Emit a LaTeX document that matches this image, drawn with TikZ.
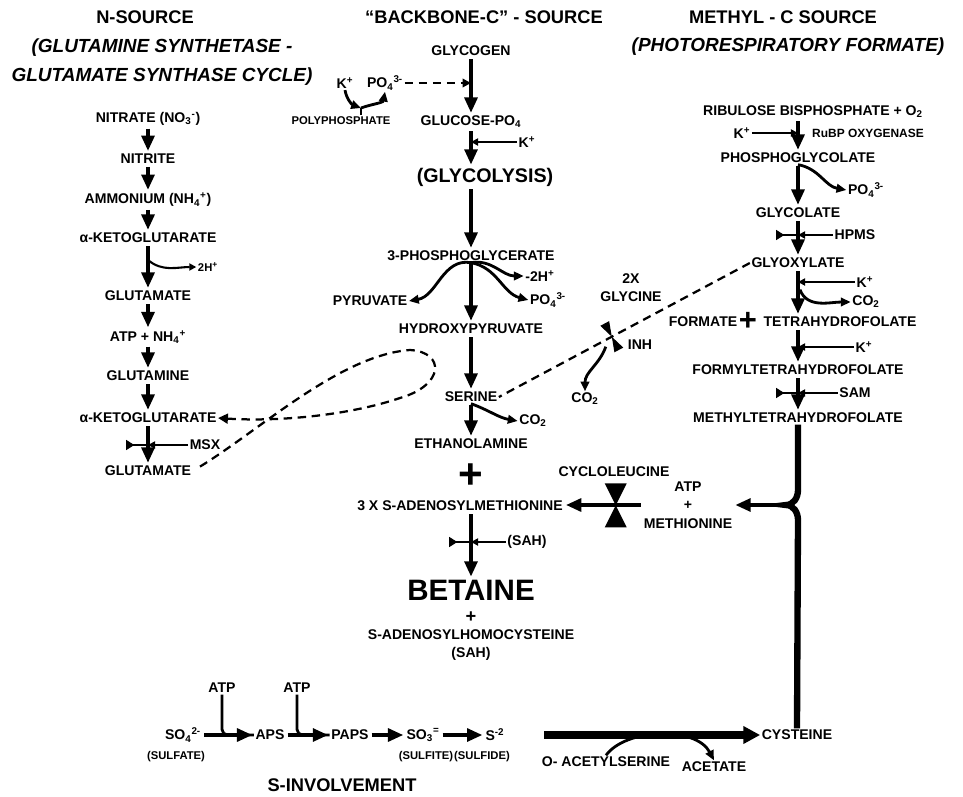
\documentclass[tikz,border=0pt]{standalone}
\usepackage{fontspec}
\setmainfont{Liberation Sans}
\usetikzlibrary{arrows.meta,calc}

\begin{document}
\begin{tikzpicture}[
    x=0.025cm, y=-0.025cm,
    every node/.style={font=\bfseries\fontsize{10}{13}\selectfont, inner sep=1pt, align=center},
    hdr/.style={font=\bfseries\fontsize{13}{15}\selectfont},
    hdrit/.style={font=\bfseries\itshape\fontsize{13.5}{20.5}\selectfont},
    smalllbl/.style={font=\bfseries\fontsize{8}{9}\selectfont},
    rxn/.style={line width=3.4pt, shorten <=1pt, shorten >=1pt, -{Triangle[length=11pt,width=9pt]}},
    brancharr/.style={line width=2pt, -{Triangle[length=7pt,width=6pt]}},
    sidearr/.style={line width=1.5pt, -{Triangle[length=5pt,width=5pt]}},
    wedge/.style={line width=1.5pt, {Triangle[reversed,length=6pt,width=7pt]}-},
    dashlink/.style={line width=1.6pt, dash pattern=on 6pt off 4pt},
    bigarrow/.style={line width=5pt, -{Triangle[length=12pt,width=12pt]}},
    spine/.style={line width=4.5pt},
    hourglass/.pic={
        \fill (-11,-22) -- (11,-22) -- (0,0) -- cycle;
        \fill (-11,22) -- (11,22) -- (0,0) -- cycle;
    },
    inhmark/.pic={
        \fill (-5,-15) -- (5,-15) -- (0,0) -- cycle;
        \fill (-5,15) -- (5,15) -- (0,0) -- cycle;
    }
]
\useasboundingbox (0,0) rectangle (963,797);

% headings
\node[hdr] (nhead) at (145,17) {N-SOURCE};
\node[hdrit] (gscycle) at (162,62) {(GLUTAMINE SYNTHETASE -\\GLUTAMATE SYNTHASE CYCLE)};
\node[hdr] (bbhead) at (484,17) {``BACKBONE-C'' - SOURCE};
\node[hdr] (mhead) at (783,17) {METHYL - C SOURCE};
\node[hdrit] (mhead2) at (788,47) {(PHOTORESPIRATORY FORMATE)};
\node[hdr] (shead) at (342,785) {S-INVOLVEMENT};

% N-source column
\node (nitrate) at (148,119) {NITRATE (NO\textsubscript{3}\textsuperscript{-})};
\node (nitrite) at (148,159) {NITRITE};
\node (ammon) at (148,200) {AMMONIUM (NH\textsubscript{4}\textsuperscript{+})};
\node (akg1) at (148,238) {α-KETOGLUTARATE};
\node[smalllbl] (hplus) at (208,267) {2H\textsuperscript{+}};
\node (glu1) at (148,296) {GLUTAMATE};
\node (atpnh) at (148,337) {ATP + NH\textsubscript{4}\textsuperscript{+}};
\node (gln) at (148,376) {GLUTAMINE};
\node (akg2) at (148,418) {α-KETOGLUTARATE};
\node (msx) at (205,445) {MSX};
\node (glu2) at (148,471) {GLUTAMATE};

\draw[rxn] (nitrate) -- (nitrite);
\draw[rxn] (nitrite) -- (ammon);
\draw[rxn] (ammon) -- (akg1);
\draw[rxn] (akg1) -- (glu1);
\draw[rxn] (glu1) -- (atpnh);
\draw[rxn] (atpnh) -- (gln);
\draw[rxn] (gln) -- (akg2);
\draw[rxn] (akg2) -- (glu2);
\coordinate (br1) at (148,260);
\draw[sidearr] (br1) to[out=-40,in=180] (hplus.west);
\coordinate (m1) at (msx.west -| akg2.south);
\draw[sidearr] (msx.west) -- (m1);
\draw[wedge] ([shift={(-22,0)}]m1) -- (m1);

% cycle back to alpha-ketoglutarate
\draw[dashlink, shorten <=6pt, -{Triangle[length=7pt,width=7pt]}] (glu2.east)
    .. controls (260,430) and (340,355) .. (410,350)
    .. controls (445,352) and (445,385) .. (400,398)
    .. controls (350,415) and (280,422) .. (akg2.east);

% backbone-C column
\node (glycogen) at (471,51) {GLYCOGEN};
\node (kpa) at (345,83) {K\textsuperscript{+}};
\node (po4a) at (385,83) {PO\textsubscript{4}\textsuperscript{3-}};
\node[smalllbl] (polyp) at (341,121) {POLYPHOSPHATE};
\coordinate (yjoin) at (361,108);
\node (g6p) at (471,122) {GLUCOSE-PO\textsubscript{4}};
\node (kpb) at (527,142) {K\textsuperscript{+}};
\node[font=\bfseries\fontsize{14}{16}\selectfont] (glycol) at (485,177) {(GLYCOLYSIS)};
\node (pga) at (471,256) {3-PHOSPHOGLYCERATE};
\node (pyr) at (370,301) {PYRUVATE};
\node (twoh) at (540,276) {-2H\textsuperscript{+}};
\node (po4b) at (548,300) {PO\textsubscript{4}\textsuperscript{3-}};
\node (hpyr) at (471,329) {HYDROXYPYRUVATE};
\node (ser) at (471,397) {SERINE};
\node (co2a) at (533,421) {CO\textsubscript{2}};
\node (etn) at (471,444) {ETHANOLAMINE};
\node[font=\bfseries\fontsize{30}{30}\selectfont] (plusa) at (471,476) {+};
\node (sam) at (460,506) {3 X S-ADENOSYLMETHIONINE};
\node (sah1) at (527,542) {(SAH)};
\node[font=\bfseries\fontsize{21}{24}\selectfont] (bet) at (471,590) {BETAINE};
\node[font=\bfseries\fontsize{13}{13}\selectfont] (plusb) at (471,617) {+};
\node (sahc) at (471,645) {S-ADENOSYLHOMOCYSTEINE\\(SAH)};

\draw[rxn] (glycogen) -- (g6p);
\draw[dashlink, -{Triangle[length=6pt,width=6pt]}] (po4a.east) -- (po4a.east -| glycogen.south);
\draw[brancharr] (kpa.south) to[out=-80,in=160] (yjoin);
\draw[brancharr] (yjoin) to[out=20,in=-100] (po4a.south);
\draw[line width=2pt] (yjoin) -- (yjoin |- polyp.north);
\draw[sidearr] (kpb.west) -- (kpb.west -| g6p.south);
\draw[rxn] (g6p) -- (g6p.south |- glycol.north);
\draw[rxn] (glycol.south -| pga.north) -- (pga.north);
\draw[rxn] (pga) -- (hpyr);
\draw[brancharr] (pga.south) to[out=170,in=10] (pyr.east);
\draw[brancharr] (pga.south) to[out=10,in=180] (twoh.west);
\draw[brancharr] (pga.south) to[out=-10,in=165] (po4b.west);
\draw[rxn] (hpyr) -- (ser);
\draw[rxn] (ser) -- (etn);
\draw[brancharr] (ser.south) to[out=-20,in=170] (co2a.west);
\draw[rxn] (sam.south -| bet.north) -- (bet.north);
\coordinate (s1) at (sah1.west -| bet.north);
\draw[sidearr] (sah1.west) -- (s1);
\draw[wedge] ([shift={(-22,0)}]s1) -- (s1);

% glycine link
\node (gly) at (631,288) {2X\\GLYCINE};
\node (inh) at (640,345) {INH};
\node (co2b) at (585,399) {CO\textsubscript{2}};

% methyl-C column
\node (rubp) at (813,112) {RIBULOSE BISPHOSPHATE + O\textsubscript{2}};
\node (kpc) at (742,133) {K\textsuperscript{+}};
\node[font=\bfseries\fontsize{8.5}{10}\selectfont] (rubpo) at (868,133) {RuBP OXYGENASE};
\node (pgc) at (798,158) {PHOSPHOGLYCOLATE};
\node (po4c) at (866,190) {PO\textsubscript{4}\textsuperscript{3-}};
\node (glc) at (798,213) {GLYCOLATE};
\node (hpms) at (855,235) {HPMS};
\node (glyox) at (798,263) {GLYOXYLATE};
\node (kpd) at (865,282) {K\textsuperscript{+}};
\node (co2c) at (866,302) {CO\textsubscript{2}};
\node (formate) at (703,322) {FORMATE};
\node[font=\bfseries\fontsize{22}{22}\selectfont] (plusc) at (748,321) {+};
\node (thf) at (840,322) {TETRAHYDROFOLATE};
\node (kpe) at (864,347) {K\textsuperscript{+}};
\node (fthf) at (798,370) {FORMYLTETRAHYDROFOLATE};
\node (samr) at (855,393) {SAM};
\node (mthf) at (798,418) {METHYLTETRAHYDROFOLATE};
\node (cycl) at (614,472) {CYCLOLEUCINE};
\node (atpmet) at (688,505) {ATP\\+\\METHIONINE};
\node (cys) at (797,735) {CYSTEINE};

\draw[rxn] (rubp.south -| pgc.north) -- (pgc.north);
\draw[sidearr] (kpc.east) -- (kpc.east -| pgc.north);
\draw[rxn] (pgc) -- (glc);
\draw[brancharr] (pgc.south) to[out=-10,in=170] (po4c.west);
\draw[rxn] (glc) -- (glyox);
\coordinate (h1) at (hpms.west -| glc.south);
\draw[sidearr] (hpms.west) -- (h1);
\draw[wedge] ([shift={(-22,0)}]h1) -- (h1);
\draw[rxn] (glyox.south) -- (glyox.south |- thf.north);
\draw[sidearr] (kpd.west) -- (kpd.west -| glyox.south);
\draw[brancharr] ([shift={(2,20)}]glyox.south) to[out=-70,in=180] (co2c.west);
\draw[rxn] (thf.south -| fthf.north) -- (fthf.north);
\draw[sidearr] (kpe.west) -- (kpe.west -| fthf.north);
\draw[rxn] (fthf) -- (mthf);
\coordinate (s2) at (samr.west -| fthf.south);
\draw[sidearr] (samr.west) -- (s2);
\draw[wedge] ([shift={(-22,0)}]s2) -- (s2);

% photorespiratory glycine to serine
\draw[dashlink] (glyox.west) -- (ser.east);
\coordinate (inhx) at ($(glyox.west)!0.55!(ser.east)$);
\pic[rotate=28] at (inhx) {inhmark};
\draw[brancharr] ([shift={(-6,10)}]inhx) to[out=-110,in=90] (co2b.north);

% methionine from cysteine and methyl-THF
\coordinate (b1) at (798,490);
\coordinate (cusp) at (786,505);
\coordinate (b2) at (798,520);
\draw[spine] (mthf.south) -- (b1) to[out=-90,in=0] (cusp) to[out=0,in=90] (b2) -- (cys.north);
\draw[rxn] (cusp) -- (atpmet.east);
\draw[rxn] (atpmet.west) -- (atpmet.west -| sam.east);
\pic at ($(atpmet.west)!0.34!(sam.east)$) {hourglass};

% S-involvement
\node (atpa) at (222,688) {ATP};
\node (atpb) at (297,688) {ATP};
\node (so4) at (183,735) {SO\textsubscript{4}\textsuperscript{2-}};
\node (aps) at (270,735) {APS};
\node (paps) at (350,735) {PAPS};
\node (so3) at (423,735) {SO\textsubscript{3}\textsuperscript{=}};
\node (s2m) at (495,735) {S\textsuperscript{-2}};
\node[smalllbl] (sulfate) at (176,757) {(SULFATE)};
\node[smalllbl] (sulfite) at (426,757) {(SULFITE)};
\node[smalllbl] (sulfide) at (482,757) {(SULFIDE)};
\node (oas) at (606,762) {O- ACETYLSERINE};
\node (acet) at (714,767) {ACETATE};

\draw[rxn] (so4) -- (aps);
\draw[line width=2pt, rounded corners=4pt] (atpa.south) |- (aps.west);
\draw[rxn] (aps) -- (paps);
\draw[line width=2pt, rounded corners=4pt] (atpb.south) |- (paps.west);
\draw[rxn] (paps) -- (so3);
\draw[rxn] (so3) -- (s2m);
\draw[bigarrow] ([shift={(38,0)}]s2m.east) -- (cys.west);
\draw[brancharr] (oas.north) .. controls (626,728) and (696,726) .. (acet.north);

\end{tikzpicture}
\end{document}
